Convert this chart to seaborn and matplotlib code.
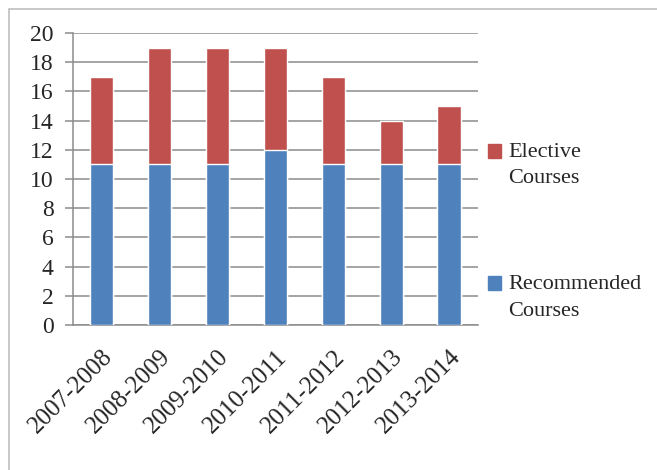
import matplotlib
matplotlib.use("Agg")
import matplotlib.pyplot as plt
from matplotlib.legend_handler import HandlerPatch
from matplotlib.patches import Patch, Rectangle
import pandas as pd
import seaborn as sns

years = ["2007-2008", "2008-2009", "2009-2010", "2010-2011",
         "2011-2012", "2012-2013", "2013-2014"]
recommended = [11, 11, 11, 12, 11, 11, 11]
elective = [6, 8, 8, 7, 6, 3, 4]

blue = "#4F81BD"
red = "#C0504D"
grid_col = "#8c8c8c"

df = pd.DataFrame({"year": years, "recommended": recommended, "elective": elective})
df["total"] = df["recommended"] + df["elective"]

sns.set_style("white")
plt.rcParams["font.family"] = ["Liberation Serif", "DejaVu Serif"]

fig = plt.figure(figsize=(6.57, 4.70), dpi=100)
ax = fig.add_axes([0.111, 0.3085, 0.6165, 0.6213])

# stacked: total in red, recommended in blue on top of it
sns.barplot(data=df, x="year", y="total", color=red, width=0.4,
            saturation=1, ax=ax, zorder=3)
sns.barplot(data=df, x="year", y="recommended", color=blue, width=0.4,
            saturation=1, ax=ax, zorder=3)

ax.set_xlim(-0.5, len(years) - 0.5)
ax.set_ylim(0, 20)
ax.set_yticks(range(0, 21, 2))
ax.set_xlabel("")
ax.set_ylabel("")

ax.yaxis.grid(True, color=grid_col, linewidth=1.1, zorder=0)
ax.set_axisbelow(True)

for s in ["top", "right"]:
    ax.spines[s].set_visible(False)
for s in ["left", "bottom"]:
    ax.spines[s].set_color(grid_col)
    ax.spines[s].set_linewidth(1.1)

# x ticks: labels at centres, tick marks at boundaries
ax.set_xticks(range(len(years)))
ax.set_xticklabels(years, rotation=45, ha="right", rotation_mode="anchor",
                   fontsize=18)
ax.set_xticks([i - 0.5 for i in range(len(years) + 1)], minor=True)
ax.tick_params(axis="x", which="major", length=0, pad=15)
ax.tick_params(axis="x", which="minor", length=6, width=1.1, color=grid_col,
               direction="out")
ax.tick_params(axis="y", length=6, width=1.1, color=grid_col, direction="out",
               labelsize=17, pad=8, left=True)


# legend square sits next to the first line of each label
def top_patch(legend, orig_handle, xdescent, ydescent, width, height, fontsize):
    return Rectangle((-xdescent, -ydescent + 0.62 * fontsize), width, height)


handles = [Patch(color=red), Patch(color=blue)]
leg = ax.legend(handles, ["Elective\nCourses", "Recommended\nCourses"],
                loc="center left", bbox_to_anchor=(1.025, 0.32), frameon=False,
                fontsize=16, handlelength=0.6, handleheight=0.6,
                handletextpad=0.3, labelspacing=3.9, borderaxespad=0,
                borderpad=0,
                handler_map={Patch: HandlerPatch(patch_func=top_patch)})
for t in leg.get_texts():
    t.set_linespacing(1.55)

# outer light frame
fig.patches.append(Rectangle((9 / 657, -0.1), 1.1, 1 - 9 / 470 + 0.1,
                             transform=fig.transFigure, fill=False,
                             edgecolor="#bfbfbf", linewidth=1.2))

fig.savefig("out.png", dpi=100)
